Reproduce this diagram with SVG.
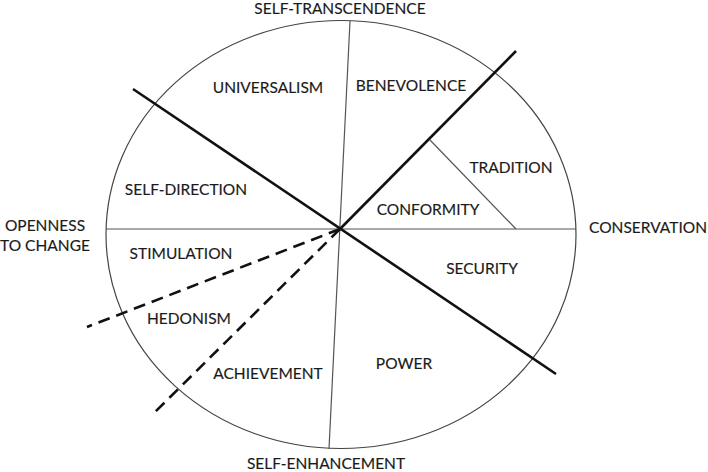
<svg xmlns="http://www.w3.org/2000/svg" width="708" height="472" viewBox="0 0 708 472">
<style>
text{font-family:Lato,"Open Sans","Liberation Sans",sans-serif;font-size:15.5px;fill:#1a1a1a;stroke:#1a1a1a;stroke-width:0.15;text-anchor:middle}
.thin{stroke:#555;stroke-width:1.2;fill:none}
.thick{stroke:#111;stroke-width:2.6;fill:none}
.dash{stroke:#111;stroke-width:2.6;fill:none;stroke-dasharray:12 7}
</style>
<rect width="708" height="472" fill="#fff"/>
<g id="circle"><ellipse cx="341" cy="234.5" rx="235" ry="214" fill="none" stroke="#444" stroke-width="1.2"/></g>
<g id="connectors">
<line class="thin" x1="106" y1="229" x2="576" y2="229"/>
<line class="thin" x1="350" y1="21" x2="329" y2="449"/>
<line class="thick" x1="133" y1="89" x2="556" y2="374"/>
<line class="thick" x1="340" y1="229" x2="516" y2="51"/>
<line class="thin" x1="430" y1="140" x2="516" y2="229"/>
<line class="dash" x1="340" y1="229" x2="87" y2="327"/>
<line class="dash" x1="340" y1="229" x2="154" y2="413"/>
</g>
<g id="self-transcendence"><text x="340" y="14">SELF-TRANSCENDENCE</text></g>
<g id="universalism"><text x="268" y="93">UNIVERSALISM</text></g>
<g id="benevolence"><text x="411" y="91">BENEVOLENCE</text></g>
<g id="self-direction"><text x="186" y="195">SELF-DIRECTION</text></g>
<g id="openness"><text x="45" y="231">OPENNESS</text><text x="45" y="251">TO CHANGE</text></g>
<g id="tradition"><text x="511" y="173">TRADITION</text></g>
<g id="conformity"><text x="428" y="215">CONFORMITY</text></g>
<g id="conservation"><text x="648" y="233">CONSERVATION</text></g>
<g id="stimulation"><text x="181" y="259">STIMULATION</text></g>
<g id="hedonism"><text x="189" y="324">HEDONISM</text></g>
<g id="achievement"><text x="268" y="379">ACHIEVEMENT</text></g>
<g id="security"><text x="482" y="274">SECURITY</text></g>
<g id="power"><text x="404" y="369">POWER</text></g>
<g id="self-enhancement"><text x="326" y="469">SELF-ENHANCEMENT</text></g>
</svg>
